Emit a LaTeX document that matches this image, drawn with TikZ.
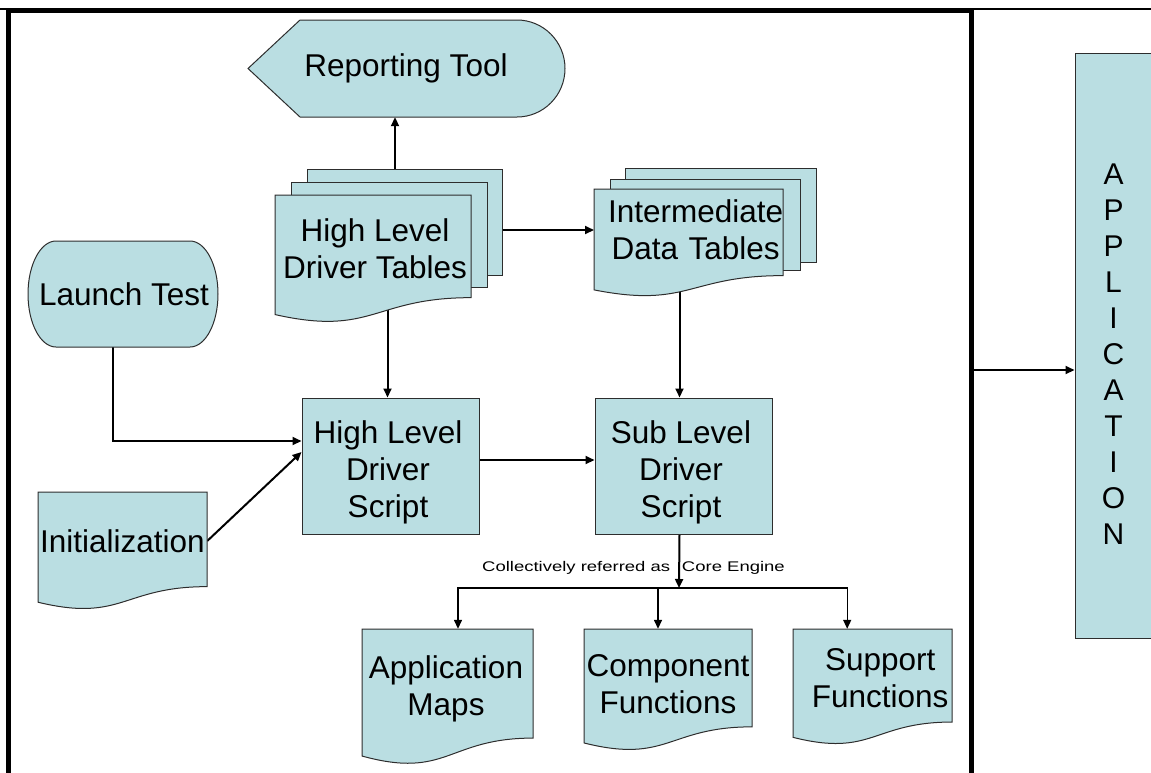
\documentclass[tikz,border=0pt]{standalone}
\usepackage{fontspec}
\setmainfont{Liberation Sans}
\usetikzlibrary{arrows.meta}
\pgfdeclarelayer{background}
\pgfsetlayers{background,main}
\definecolor{flowfill}{RGB}{186,222,226}
\definecolor{flowline}{RGB}{45,45,45}
\newcommand\bigtext{\fontsize{31.5}{37}\selectfont}
\tikzset{
  shapefill/.style={fill=flowfill, draw=flowline, line width=1pt},
  procbox/.style={shapefill, rectangle, inner sep=0pt},
  lbl/.style={inner sep=0pt, align=center, font=\bigtext},
  conn/.style={line width=2pt, -{Triangle[length=9pt,width=8pt]}},
  branch/.style={line width=1.4pt, -{Triangle[length=9pt,width=8pt]}},
}
% flowchart "document" outline: x, y, width, height
\newcommand\docshape[4]{\path[shapefill] (#1,#2) -- ++(#3,0) -- ++(0,{0.802*#4})
  .. controls ({#1+0.5*#3},{#2+0.802*#4}) and ({#1+0.5*#3},{#2+1.107*#4}) .. (#1,{#2+0.934*#4}) -- cycle;}

\begin{document}
\begin{tikzpicture}[x=1pt,y=-1pt]
\useasboundingbox (0,0) rectangle (1151,772);

% outer frame
\draw[line width=2pt] (0,8.7) -- (1151,8.7);
\draw[line width=5pt] (8.3,790) -- (8.3,10.8) -- (971,10.8) -- (971,790);

% Reporting Tool (display shape)
\path[shapefill] (248,68.5) -- (300,20) -- (517,20)
  .. controls (543.5,20) and (565,41.7) .. (565,68.5)
  .. controls (565,95.3) and (543.5,117) .. (517,117) -- (300,117) -- cycle;
\node[lbl, minimum width=317pt, minimum height=97pt] (rt) at (406,68.5) {Reporting Tool};

% Launch Test (terminator)
\path[shapefill] (56,241) -- (190,241)
  .. controls (205.5,241) and (218,264.7) .. (218,294)
  .. controls (218,323.3) and (205.5,347) .. (190,347) -- (56,347)
  .. controls (40.5,347) and (28,323.3) .. (28,294)
  .. controls (28,264.7) and (40.5,241) .. (56,241) -- cycle;
\node[lbl, minimum width=190pt, minimum height=106pt] (launch) at (124,294) {Launch Test};

% High Level Driver Tables (stacked documents)
\path[shapefill] (307,169) rectangle (502,275);
\path[shapefill] (291,182) rectangle (487,287);
\docshape{275}{195}{196}{128}
\node[lbl, minimum width=196pt, minimum height=108pt] (hldt) at (375,249) {High Level\\Driver Tables};

% Intermediate Data Tables (stacked documents)
\path[shapefill] (625,168) rectangle (816,262);
\path[shapefill] (610,179) rectangle (800,270);
\docshape{594}{189}{189}{108}
\node[lbl, text width=203pt, minimum height=82pt, anchor=west] (idt) at (594,230) {Intermediate\\Data Tables};

% Initialization (document)
\docshape{38}{492}{169}{118}
\node[lbl, minimum width=169pt, minimum height=98pt] (init) at (122.5,541) {Initialization};

% driver scripts
\node[procbox, minimum width=177pt, minimum height=136pt] (hlds) at (390.5,466) {};
\node[lbl] (hlds-text) at (388,472) {High Level\\Driver\\Script};
\node[procbox, minimum width=177pt, minimum height=136pt] (slds) at (683.5,466) {};
\node[lbl] (slds-text) at (681,472) {Sub Level\\Driver\\Script};

% core engine documents
\docshape{362}{629}{171}{136}
\node[lbl, minimum width=171pt, minimum height=120pt] (am) at (446,689) {Application\\Maps};
\docshape{584}{629}{168}{122}
\node[lbl, minimum width=168pt, minimum height=111pt] (cf) at (668,684.5) {Component\\Functions};
\docshape{793}{629}{159}{116}
\node[lbl, text width=174pt, minimum height=99pt, anchor=west] (sf) at (793,678.5) {Support\\Functions};

% application under test
\node[procbox, minimum width=77pt, minimum height=585pt] (app) at (1113.5,345.5) {};
\node[inner sep=0pt, align=center, font=\fontsize{30}{36}\selectfont] (apptext) at (1113.5,354) {A\\P\\P\\L\\I\\C\\A\\T\\I\\O\\N};

% core engine note
\node[inner sep=0pt, anchor=west, font=\fontsize{14}{16}\selectfont] (note) at (482,568)
  {\scalebox{1.32}[1]{Collectively referred as\hspace{9pt}Core Engine}};

\coordinate (hub) at (679,588);
\coordinate (frameR) at (971,370);

\begin{pgfonlayer}{background}
  \draw[conn] ([xshift=-11pt]rt.south |- hldt.center) -- ([xshift=-11pt]rt.south);
  \draw[conn] (hldt.center |- idt.west) -- (idt.west);
  \draw[conn] ([xshift=-3pt]hlds.north |- hldt.center) -- ([xshift=-3pt]hlds.north);
  \draw[conn] ([xshift=-4pt]slds.north |- idt.center) -- ([xshift=-4pt]slds.north);
  \draw[conn] ([xshift=-11pt]launch.south) |- ([yshift=25pt]hlds.west);
  \draw[conn] (init.east) -- ([yshift=14pt]hlds.west);
  \draw[conn] ([yshift=6pt]hlds.east) -- ([yshift=6pt]slds.west);
  \draw[conn] ([xshift=-4pt]slds.south) -- (hub);
  \draw[branch] (hub) -| ([xshift=12pt]am.north);
  \draw[branch] (hub) -| ([xshift=-10pt]cf.north);
  \draw[branch] (hub) -| ([xshift=-33pt]sf.north);
  \draw[conn] (frameR) -- (frameR -| app.west);
\end{pgfonlayer}
\end{tikzpicture}
\end{document}
